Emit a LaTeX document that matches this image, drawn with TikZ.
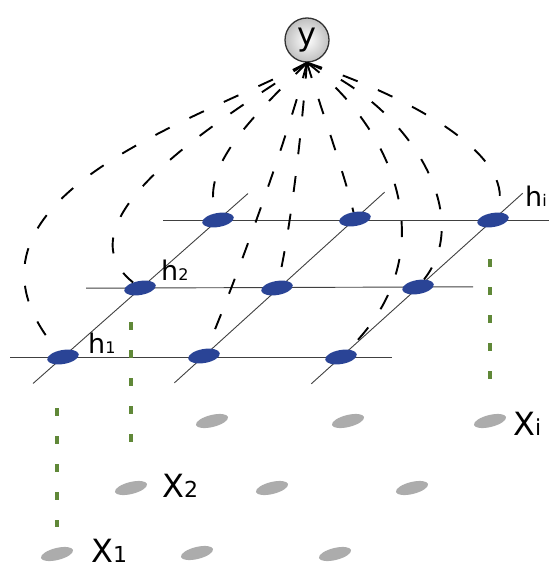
\documentclass[tikz,border=0pt]{standalone}
\usepackage{fontspec}
\setmainfont{DejaVu Sans}
\usepackage{tikz}
\usetikzlibrary{shapes.geometric,backgrounds,calc}
\definecolor{cHid}{RGB}{42,68,150}
\definecolor{cObs}{RGB}{172,172,172}
\definecolor{cLink}{RGB}{96,136,56}
\newcommand{\ix}[2]{{\fontsize{#1pt}{#1pt}\selectfont #2}}

\begin{document}
\begin{tikzpicture}[x=1pt,y=-1pt]
\tikzset{
  hn/.style={ellipse,fill=cHid,inner sep=0pt,minimum width=32pt,minimum height=14pt,rotate=10},
  xn/.style={ellipse,fill=cObs,inner sep=0pt,minimum width=33pt,minimum height=12pt,rotate=14},
  gl/.style={line width=0.9pt,black!75},
  dl/.style={line width=1.9pt,dash pattern=on 16pt off 22pt},
  gd/.style={line width=3.2pt,cLink,dash pattern=on 8pt off 20pt},
  hl/.style={font=\fontsize{27}{27}\selectfont,anchor=base west,inner sep=0pt},
  xl/.style={font=\fontsize{32}{32}\selectfont,anchor=base west,inner sep=0pt}
}
\useasboundingbox (0,0) rectangle (548,569);

% output node
\node[circle,draw=black!80,line width=1.3pt,inner color=white,outer color=black!25,
  minimum size=44pt,inner sep=0pt,font=\fontsize{32}{32}\selectfont] (y) at (307,40) {y};

% hidden units, three rows
\node[hn] (h11) at (63,357) {};
\node[hn] (h12) at (204,356) {};
\node[hn] (h13) at (341,357) {};
\node[hn] (h21) at (140,288) {};
\node[hn] (h22) at (277,288) {};
\node[hn] (h23) at (418,287) {};
\node[hn] (h31) at (218,220) {};
\node[hn] (h32) at (355,219) {};
\node[hn] (h33) at (493,220) {};
\node[hl] (lh1) at (88,353) {h\ix{16}{1}};
\node[hl] (lh2) at (161,280) {h\ix{16}{2}};
\node[hl] (lhi) at (525,206) {h\ix{16}{i}};

% lattice
\begin{scope}[on background layer]
\draw[gl,shorten <=-53pt,shorten >=-51pt] (h11.center) -- (h13.center);
\draw[gl,shorten <=-54pt,shorten >=-55pt] (h21.center) -- (h23.center);
\draw[gl,shorten <=-55pt,shorten >=-56pt] (h31.center) -- (h33.center);
\draw[gl,shorten <=-40pt,shorten >=-40pt] (h11.center) -- (h31.center);
\draw[gl,shorten <=-40pt,shorten >=-40pt] (h12.center) -- (h32.center);
\draw[gl,shorten <=-40pt,shorten >=-40pt] (h13.center) -- (h33.center);
\end{scope}

% inputs
\node[xn] (x11) at (57,554) {};
\node[xn] (x12) at (197,553) {};
\node[xn] (x13) at (335,554) {};
\node[xn] (x21) at (131,488) {};
\node[xn] (x22) at (272,488) {};
\node[xn] (x23) at (412,488) {};
\node[xn] (x31) at (212,421) {};
\node[xn] (x32) at (348,421) {};
\node[xn] (x33) at (490,421) {};
\node[xl] (lx1) at (91,562) {X\ix{22}{1}};
\node[xl] (lx2) at (162,497) {X\ix{22}{2}};
\node[xl] (lxi) at (513,435) {X\ix{22}{i}};

% input to hidden
\draw[gd,shorten <=51pt,shorten >=27pt] (x11 |- h11) -- (x11.center);
\draw[gd,shorten <=34pt,shorten >=43pt] (x21 |- h21) -- (x21.center);
\draw[gd,shorten <=39pt,shorten >=36pt] (x33 |- h33) -- (x33.center);

% hidden to output
\draw[dl] (y.south) .. controls (200,120) and (-70,200) .. (h11);
\draw[dl] (y.south) .. controls (220,120) and (55,220) .. (h21);
\draw[dl] (y.south) .. controls (255,115) and (200,165) .. (h31);
\draw[dl] (y.south) .. controls (290,130) and (240,270) .. (h12);
\draw[dl] (y.south) .. controls (300,150) and (290,230) .. (h22);
\draw[dl] (y.south) .. controls (318,100) and (345,175) .. (h32);
\draw[dl] (y.south) .. controls (390,125) and (450,250) .. (h13);
\draw[dl] (y.south) .. controls (410,105) and (475,215) .. (h23);
\draw[dl] (y.south) .. controls (420,100) and (520,160) .. (h33);
\end{tikzpicture}
\end{document}
